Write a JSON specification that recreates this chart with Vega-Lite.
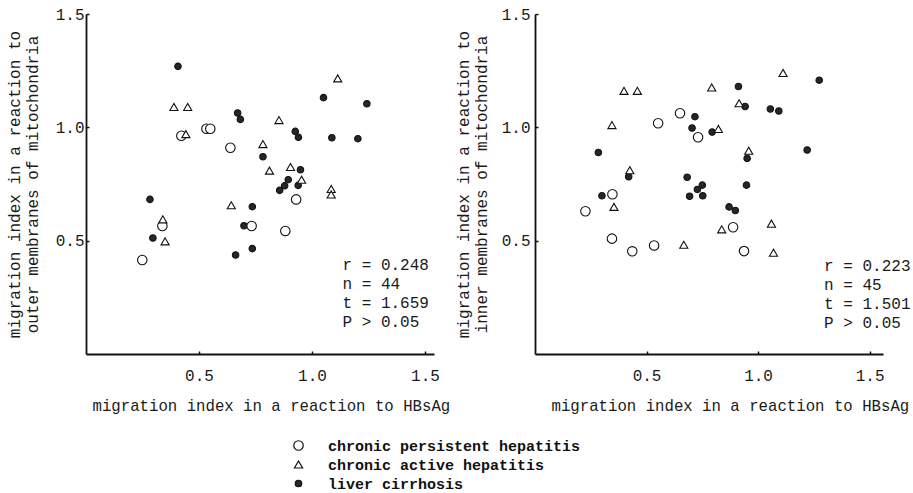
{
  "$schema": "https://vega.github.io/schema/vega-lite/v6.json",
  "padding": {"left": 6, "top": 6, "right": 2, "bottom": 2},
  "background": "white",
  "config": {
    "font": "Liberation Mono",
    "view": {"stroke": null},
    "axis": {
      "labelFont": "Liberation Mono", "titleFont": "Liberation Mono",
      "labelFontSize": 16, "titleFontSize": 16, "titleFontWeight": "normal",
      "labelColor": "#1a1a1a", "titleColor": "#1a1a1a",
      "domainColor": "#111", "domainWidth": 1.8, "tickColor": "#111", "tickWidth": 1.5,
      "grid": false, "tickSize": -3
    },
    "legend": {"labelLimit": 500},
    "concat": {"spacing": 5}
  },
  "datasets": {
    "outer": [
      {"x": 0.407, "y": 1.269, "group": "liver cirrhosis"},
      {"x": 0.283, "y": 0.682, "group": "liver cirrhosis"},
      {"x": 0.296, "y": 0.512, "group": "liver cirrhosis"},
      {"x": 0.671, "y": 1.063, "group": "liver cirrhosis"},
      {"x": 0.683, "y": 1.035, "group": "liver cirrhosis"},
      {"x": 0.783, "y": 0.870, "group": "liver cirrhosis"},
      {"x": 0.736, "y": 0.650, "group": "liver cirrhosis"},
      {"x": 0.699, "y": 0.566, "group": "liver cirrhosis"},
      {"x": 0.662, "y": 0.437, "group": "liver cirrhosis"},
      {"x": 0.736, "y": 0.465, "group": "liver cirrhosis"},
      {"x": 0.926, "y": 0.982, "group": "liver cirrhosis"},
      {"x": 0.940, "y": 0.956, "group": "liver cirrhosis"},
      {"x": 0.949, "y": 0.813, "group": "liver cirrhosis"},
      {"x": 0.895, "y": 0.769, "group": "liver cirrhosis"},
      {"x": 0.879, "y": 0.742, "group": "liver cirrhosis"},
      {"x": 0.857, "y": 0.722, "group": "liver cirrhosis"},
      {"x": 0.939, "y": 0.744, "group": "liver cirrhosis"},
      {"x": 1.051, "y": 1.131, "group": "liver cirrhosis"},
      {"x": 1.088, "y": 0.954, "group": "liver cirrhosis"},
      {"x": 1.203, "y": 0.950, "group": "liver cirrhosis"},
      {"x": 1.243, "y": 1.104, "group": "liver cirrhosis"},
      {"x": 0.249, "y": 0.415, "group": "chronic persistent hepatitis"},
      {"x": 0.338, "y": 0.565, "group": "chronic persistent hepatitis"},
      {"x": 0.422, "y": 0.963, "group": "chronic persistent hepatitis"},
      {"x": 0.533, "y": 0.994, "group": "chronic persistent hepatitis"},
      {"x": 0.550, "y": 0.994, "group": "chronic persistent hepatitis"},
      {"x": 0.639, "y": 0.910, "group": "chronic persistent hepatitis"},
      {"x": 0.733, "y": 0.565, "group": "chronic persistent hepatitis"},
      {"x": 0.930, "y": 0.682, "group": "chronic persistent hepatitis"},
      {"x": 0.882, "y": 0.543, "group": "chronic persistent hepatitis"},
      {"x": 0.389, "y": 1.090, "group": "chronic active hepatitis"},
      {"x": 0.450, "y": 1.090, "group": "chronic active hepatitis"},
      {"x": 0.442, "y": 0.970, "group": "chronic active hepatitis"},
      {"x": 0.340, "y": 0.594, "group": "chronic active hepatitis"},
      {"x": 0.350, "y": 0.497, "group": "chronic active hepatitis"},
      {"x": 0.643, "y": 0.656, "group": "chronic active hepatitis"},
      {"x": 0.854, "y": 1.032, "group": "chronic active hepatitis"},
      {"x": 0.783, "y": 0.926, "group": "chronic active hepatitis"},
      {"x": 0.812, "y": 0.809, "group": "chronic active hepatitis"},
      {"x": 0.905, "y": 0.825, "group": "chronic active hepatitis"},
      {"x": 0.954, "y": 0.769, "group": "chronic active hepatitis"},
      {"x": 1.114, "y": 1.216, "group": "chronic active hepatitis"},
      {"x": 1.085, "y": 0.728, "group": "chronic active hepatitis"},
      {"x": 1.085, "y": 0.704, "group": "chronic active hepatitis"}
    ],
    "inner": [
      {"x": 0.284, "y": 0.889, "group": "liver cirrhosis"},
      {"x": 0.300, "y": 0.698, "group": "liver cirrhosis"},
      {"x": 0.420, "y": 0.782, "group": "liver cirrhosis"},
      {"x": 0.717, "y": 1.047, "group": "liver cirrhosis"},
      {"x": 0.704, "y": 0.997, "group": "liver cirrhosis"},
      {"x": 0.794, "y": 0.979, "group": "liver cirrhosis"},
      {"x": 0.682, "y": 0.780, "group": "liver cirrhosis"},
      {"x": 0.693, "y": 0.696, "group": "liver cirrhosis"},
      {"x": 0.728, "y": 0.726, "group": "liver cirrhosis"},
      {"x": 0.750, "y": 0.745, "group": "liver cirrhosis"},
      {"x": 0.752, "y": 0.698, "group": "liver cirrhosis"},
      {"x": 0.870, "y": 0.649, "group": "liver cirrhosis"},
      {"x": 0.898, "y": 0.633, "group": "liver cirrhosis"},
      {"x": 0.912, "y": 1.180, "group": "liver cirrhosis"},
      {"x": 0.942, "y": 1.092, "group": "liver cirrhosis"},
      {"x": 0.951, "y": 0.863, "group": "liver cirrhosis"},
      {"x": 0.948, "y": 0.745, "group": "liver cirrhosis"},
      {"x": 1.055, "y": 1.081, "group": "liver cirrhosis"},
      {"x": 1.093, "y": 1.072, "group": "liver cirrhosis"},
      {"x": 1.220, "y": 0.900, "group": "liver cirrhosis"},
      {"x": 1.274, "y": 1.208, "group": "liver cirrhosis"},
      {"x": 0.226, "y": 0.630, "group": "chronic persistent hepatitis"},
      {"x": 0.347, "y": 0.705, "group": "chronic persistent hepatitis"},
      {"x": 0.345, "y": 0.509, "group": "chronic persistent hepatitis"},
      {"x": 0.436, "y": 0.453, "group": "chronic persistent hepatitis"},
      {"x": 0.534, "y": 0.479, "group": "chronic persistent hepatitis"},
      {"x": 0.552, "y": 1.018, "group": "chronic persistent hepatitis"},
      {"x": 0.650, "y": 1.062, "group": "chronic persistent hepatitis"},
      {"x": 0.731, "y": 0.956, "group": "chronic persistent hepatitis"},
      {"x": 0.888, "y": 0.559, "group": "chronic persistent hepatitis"},
      {"x": 0.937, "y": 0.454, "group": "chronic persistent hepatitis"},
      {"x": 0.399, "y": 1.161, "group": "chronic active hepatitis"},
      {"x": 0.459, "y": 1.161, "group": "chronic active hepatitis"},
      {"x": 0.345, "y": 1.010, "group": "chronic active hepatitis"},
      {"x": 0.425, "y": 0.811, "group": "chronic active hepatitis"},
      {"x": 0.354, "y": 0.649, "group": "chronic active hepatitis"},
      {"x": 0.667, "y": 0.482, "group": "chronic active hepatitis"},
      {"x": 0.792, "y": 1.176, "group": "chronic active hepatitis"},
      {"x": 0.822, "y": 0.993, "group": "chronic active hepatitis"},
      {"x": 0.915, "y": 1.106, "group": "chronic active hepatitis"},
      {"x": 0.837, "y": 0.550, "group": "chronic active hepatitis"},
      {"x": 0.958, "y": 0.897, "group": "chronic active hepatitis"},
      {"x": 1.060, "y": 0.575, "group": "chronic active hepatitis"},
      {"x": 1.069, "y": 0.447, "group": "chronic active hepatitis"},
      {"x": 1.112, "y": 1.240, "group": "chronic active hepatitis"}
    ]
  },
  "hconcat": [
    {
      "width": 348, "height": 340,
      "layer": [
        {
          "data": {"name": "outer"},
          "mark": {"type": "point", "filled": true, "strokeWidth": 1.1, "opacity": 1},
          "encoding": {
            "x": {"field": "x", "type": "quantitative", "scale": {"domain": [0, 1.54], "nice": false, "zero": true},
                  "axis": {"values": [0.5, 1.0, 1.5], "format": ".1f", "labelPadding": 16, "titlePadding": 15, "titleFontSize": 15.7,
                           "title": "migration index in a reaction to HBsAg", "titleAnchor": "start", "titleAlign": "left", "titleX": 6}},
            "y": {"field": "y", "type": "quantitative", "scale": {"domain": [0, 1.5], "nice": false},
                  "axis": {"values": [0.5, 1.0, 1.5], "format": ".1f", "labelPadding": 5, "titlePadding": 14.5,
                           "title": ["migration index in a reaction to", "outer membranes of mitochondria"]}},
            "shape": {"field": "group", "type": "nominal",
                      "scale": {"domain": ["chronic persistent hepatitis", "chronic active hepatitis", "liver cirrhosis"], "range": ["circle", "triangle-up", "circle"]},
                      "legend": {"orient": "none", "legendX": 205, "legendY": 424, "title": null, "labelFont": "Liberation Mono", "labelFontSize": 15, "labelFontWeight": "bold", "labelColor": "#111", "labelOffset": 22, "rowPadding": 3, "symbolStrokeWidth": 1.2, "padding": 0, "labelLimit": 500}},
            "fill": {"field": "group", "type": "nominal",
                     "scale": {"domain": ["chronic persistent hepatitis", "chronic active hepatitis", "liver cirrhosis"], "range": ["white", "white", "#262626"]},
                     "legend": {"orient": "none", "legendX": 205, "legendY": 424, "title": null, "labelFont": "Liberation Mono", "labelFontSize": 15, "labelFontWeight": "bold", "labelColor": "#111", "labelOffset": 22, "rowPadding": 3, "symbolStrokeWidth": 1.2, "padding": 0, "labelLimit": 500}},
            "stroke": {"field": "group", "type": "nominal",
                     "scale": {"domain": ["chronic persistent hepatitis", "chronic active hepatitis", "liver cirrhosis"], "range": ["#111111", "#111111", "#111111"]},
                     "legend": {"orient": "none", "legendX": 205, "legendY": 424, "title": null, "labelFont": "Liberation Mono", "labelFontSize": 15, "labelFontWeight": "bold", "labelColor": "#111", "labelOffset": 22, "rowPadding": 3, "symbolStrokeWidth": 1.2, "padding": 0, "labelLimit": 500}},
            "size": {"field": "group", "type": "nominal",
                     "scale": {"domain": ["chronic persistent hepatitis", "chronic active hepatitis", "liver cirrhosis"], "range": [90, 42, 100]},
                     "legend": {"orient": "none", "legendX": 205, "legendY": 424, "title": null, "labelFont": "Liberation Mono", "labelFontSize": 15, "labelFontWeight": "bold", "labelColor": "#111", "labelOffset": 22, "rowPadding": 3, "symbolStrokeWidth": 1.2, "padding": 0, "labelLimit": 500}}
          }
        },
        {
          "data": {"values": [{}]},
          "mark": {"type": "text", "text": ["r = 0.248", "n = 44", "t = 1.659", "P > 0.05"], "align": "left", "baseline": "alphabetic", "fontSize": 16, "lineHeight": 19, "font": "Liberation Mono", "color": "#1a1a1a"},
          "encoding": {"x": {"datum": 1.135, "type": "quantitative"}, "y": {"datum": 0.371, "type": "quantitative"}}
        }
      ]
    },
    {
      "width": 348, "height": 340,
      "layer": [
        {
          "data": {"name": "inner"},
          "mark": {"type": "point", "filled": true, "strokeWidth": 1.1, "opacity": 1},
          "encoding": {
            "x": {"field": "x", "type": "quantitative", "scale": {"domain": [0, 1.56], "nice": false, "zero": true},
                  "axis": {"values": [0.5, 1.0, 1.5], "format": ".1f", "labelPadding": 16, "titlePadding": 15, "titleFontSize": 15.7,
                           "title": "migration index in a reaction to HBsAg", "titleAnchor": "start", "titleAlign": "left", "titleX": 16}},
            "y": {"field": "y", "type": "quantitative", "scale": {"domain": [0, 1.5], "nice": false},
                  "axis": {"values": [0.5, 1.0, 1.5], "format": ".1f", "labelPadding": 8, "titlePadding": 11.5,
                           "title": ["migration index in a reaction to", "inner membranes of mitochondria"]}},
            "shape": {"field": "group", "type": "nominal",
                      "scale": {"domain": ["chronic persistent hepatitis", "chronic active hepatitis", "liver cirrhosis"], "range": ["circle", "triangle-up", "circle"]},
                      "legend": {"orient": "none", "legendX": 205, "legendY": 424, "title": null, "labelFont": "Liberation Mono", "labelFontSize": 15, "labelFontWeight": "bold", "labelColor": "#111", "labelOffset": 22, "rowPadding": 3, "symbolStrokeWidth": 1.2, "padding": 0, "labelLimit": 500}},
            "fill": {"field": "group", "type": "nominal",
                     "scale": {"domain": ["chronic persistent hepatitis", "chronic active hepatitis", "liver cirrhosis"], "range": ["white", "white", "#262626"]},
                     "legend": {"orient": "none", "legendX": 205, "legendY": 424, "title": null, "labelFont": "Liberation Mono", "labelFontSize": 15, "labelFontWeight": "bold", "labelColor": "#111", "labelOffset": 22, "rowPadding": 3, "symbolStrokeWidth": 1.2, "padding": 0, "labelLimit": 500}},
            "stroke": {"field": "group", "type": "nominal",
                     "scale": {"domain": ["chronic persistent hepatitis", "chronic active hepatitis", "liver cirrhosis"], "range": ["#111111", "#111111", "#111111"]},
                     "legend": {"orient": "none", "legendX": 205, "legendY": 424, "title": null, "labelFont": "Liberation Mono", "labelFontSize": 15, "labelFontWeight": "bold", "labelColor": "#111", "labelOffset": 22, "rowPadding": 3, "symbolStrokeWidth": 1.2, "padding": 0, "labelLimit": 500}},
            "size": {"field": "group", "type": "nominal",
                     "scale": {"domain": ["chronic persistent hepatitis", "chronic active hepatitis", "liver cirrhosis"], "range": [90, 42, 100]},
                     "legend": {"orient": "none", "legendX": 205, "legendY": 424, "title": null, "labelFont": "Liberation Mono", "labelFontSize": 15, "labelFontWeight": "bold", "labelColor": "#111", "labelOffset": 22, "rowPadding": 3, "symbolStrokeWidth": 1.2, "padding": 0, "labelLimit": 500}}
          }
        },
        {
          "data": {"values": [{}]},
          "mark": {"type": "text", "text": ["r = 0.223", "n = 45", "t = 1.501", "P > 0.05"], "align": "left", "baseline": "alphabetic", "fontSize": 16, "lineHeight": 19, "font": "Liberation Mono", "color": "#1a1a1a"},
          "encoding": {"x": {"datum": 1.296, "type": "quantitative"}, "y": {"datum": 0.367, "type": "quantitative"}}
        }
      ]
    }
  ],
  "resolve": {"scale": {"shape": "shared", "fill": "shared", "stroke": "shared", "size": "shared", "x": "independent", "y": "independent"}}
}
